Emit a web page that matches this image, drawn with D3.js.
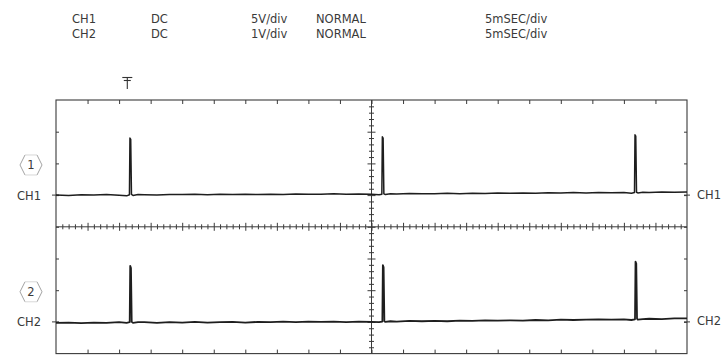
<!DOCTYPE html>
<html>
<head>
<meta charset="utf-8">
<script src="https://cdn.jsdelivr.net/npm/d3@7"></script>
<style>
  html, body { margin: 0; padding: 0; background: #fff; }
  svg { display: block; }
  text { font-family: "DejaVu Sans", sans-serif; fill: #3a3a3a; }
</style>
</head>
<body>
<script>
// Scope settings shown in the header, one entry per channel
const channels    = ["CH1", "CH2"];
const coupling    = ["DC", "DC"];
const voltsPerDiv = [5, 1];
const voltLabels  = ["5V/div", "1V/div"];
const triggerMode = ["NORMAL", "NORMAL"];
const timebase    = ["5mSEC/div", "5mSEC/div"];

// Ground reference of each trace, in screen divisions from centre
const groundDiv = [1, -3];

// Trigger point (ms)
const triggerTime = 5.65;

// CH1 samples: [time ms, volts]
const ch1Trace = [
  [0, 0.00], [1, -0.05], [2, 0.05], [3, 0.00], [4, 0.08], [5, -0.03],
  [5.6, -0.12], [5.82, 0.05], [5.86, 9.0], [5.92, 8.8], [5.98, 0.10], [6.1, -0.05],
  [6.5, 0.08], [7, 0.05], [8, 0.00], [9, 0.10], [10, 0.08], [11, 0.12], [12, 0.05],
  [13, 0.15], [14, 0.10], [15, 0.12], [16, 0.08], [17, 0.15], [18, 0.10], [19, 0.18],
  [20, 0.12], [21, 0.15], [22, 0.20], [23, 0.12], [24, 0.18], [25, 0.15],
  [25.6, 0.05], [25.82, 0.15], [25.86, 9.2], [25.92, 9.0], [25.98, 0.20], [26.1, 0.10],
  [26.5, 0.22], [27, 0.18], [28, 0.25], [29, 0.20], [30, 0.22], [31, 0.28], [32, 0.22],
  [33, 0.30], [34, 0.25], [35, 0.32], [36, 0.28], [37, 0.35], [38, 0.30], [39, 0.38],
  [40, 0.32], [41, 0.40], [42, 0.35], [43, 0.42], [44, 0.38], [45, 0.40],
  [45.6, 0.30], [45.84, 0.42], [45.88, 9.5], [45.94, 9.3], [46.0, 0.45], [46.1, 0.35],
  [46.5, 0.45], [47, 0.42], [48, 0.48], [49, 0.45], [50, 0.50]
];

// CH2 samples: [time ms, volts]
const ch2Trace = [
  [0, -0.03], [1, -0.02], [2, -0.04], [3, -0.02], [4, -0.03], [5, -0.01],
  [5.6, -0.03], [5.84, -0.01], [5.88, 1.77], [5.94, 1.70], [6.0, 0.00], [6.1, -0.03],
  [6.5, -0.01], [7, -0.01], [8, -0.03], [9, -0.01], [10, -0.02], [11, 0.00], [12, -0.02],
  [13, -0.01], [14, 0.00], [15, -0.02], [16, 0.00], [17, -0.01], [18, 0.01], [19, -0.01],
  [20, 0.01], [21, 0.00], [22, 0.01], [23, -0.01], [24, 0.01], [25, 0.00],
  [25.6, -0.01], [25.86, 0.01], [25.9, 1.79], [25.96, 1.72], [26.02, 0.02], [26.1, 0.00],
  [26.5, 0.02], [27, 0.01], [28, 0.03], [29, 0.02], [30, 0.03], [31, 0.02], [32, 0.04],
  [33, 0.03], [34, 0.05], [35, 0.04], [36, 0.05], [37, 0.04], [38, 0.06], [39, 0.05],
  [40, 0.07], [41, 0.06], [42, 0.07], [43, 0.08], [44, 0.07], [45, 0.08],
  [45.6, 0.06], [45.88, 0.08], [45.92, 1.90], [45.98, 1.84], [46.04, 0.10], [46.1, 0.07],
  [46.5, 0.09], [47, 0.10], [48, 0.09], [49, 0.11], [50, 0.11]
];

const W = 726, H = 356;
const svg = d3.select("body").append("svg").attr("width", W).attr("height", H);
svg.append("rect").attr("width", W).attr("height", H).attr("fill", "#fff");

// Screen: 50 ms across, 8 divisions tall
const x = d3.scaleLinear().domain([0, 50]).range([56, 687]);
const y = d3.scaleLinear().domain([-4, 4]).range([353.6, 100]);

// ---- header ----
const colX = [72, 151, 251, 316, 485];
const rowY = [23, 37.5];
const headerRows = channels.map((c, i) => [c, coupling[i], voltLabels[i], triggerMode[i], timebase[i]]);
const header = svg.append("g").attr("font-size", 11.5);
headerRows.forEach((row, r) => {
  header.selectAll(null).data(row).enter().append("text")
    .attr("x", (d, i) => colX[i]).attr("y", rowY[r]).text(d => d);
});

// ---- graticule ----
const grid = svg.append("g").attr("stroke", "#3a3a3a").attr("fill", "none");
const halfDiv = d3.range(2.5, 50, 2.5);
const fineX = d3.range(0.5, 50, 0.5).filter(t => Math.abs(t / 2.5 - Math.round(t / 2.5)) > 1e-6);
const vDiv = d3.range(-3, 4, 1);
const fineY = d3.range(-3.8, 4, 0.2).map(v => +v.toFixed(1)).filter(v => Math.abs(v - Math.round(v)) > 1e-6);

function tickAxis(axis, tx, ty) {
  const g = svg.append("g").attr("transform", `translate(${tx},${ty})`).call(axis);
  g.select(".domain").remove();
  g.selectAll("line").attr("stroke", "#3a3a3a").attr("stroke-width", 1);
  return g;
}

// frame
grid.append("rect")
  .attr("x", x(0)).attr("y", y(4))
  .attr("width", x(50) - x(0)).attr("height", y(-4) - y(4))
  .attr("stroke-width", 1.1);

// edges
tickAxis(d3.axisBottom(x).tickValues(halfDiv).tickSize(4).tickFormat(""), 0, y(4));
tickAxis(d3.axisTop(x).tickValues(halfDiv).tickSize(4).tickFormat(""), 0, y(-4));
tickAxis(d3.axisRight(y).tickValues(vDiv).tickSize(3).tickFormat(""), x(0), 0);
tickAxis(d3.axisLeft(y).tickValues(vDiv).tickSize(3).tickFormat(""), x(50), 0);

// centre cross
grid.append("line").attr("x1", x(0)).attr("x2", x(50)).attr("y1", y(0)).attr("y2", y(0)).attr("stroke-width", 1);
grid.append("line").attr("x1", x(25)).attr("x2", x(25)).attr("y1", y(4)).attr("y2", y(-4)).attr("stroke-width", 1);
[d3.axisTop, d3.axisBottom].forEach(a => {
  tickAxis(a(x).tickValues(halfDiv).tickSize(4).tickFormat(""), 0, y(0));
  tickAxis(a(x).tickValues(fineX).tickSize(2.5).tickFormat(""), 0, y(0));
});
[d3.axisLeft, d3.axisRight].forEach(a => {
  tickAxis(a(y).tickValues(vDiv).tickSize(4).tickFormat(""), x(25), 0);
  tickAxis(a(y).tickValues(fineY).tickSize(2.5).tickFormat(""), x(25), 0);
});

// ground markers on both edges
groundDiv.forEach(g => {
  grid.append("line").attr("x1", x(0) - 4).attr("x2", x(0) + 3).attr("y1", y(g)).attr("y2", y(g));
  grid.append("line").attr("x1", x(50) - 3).attr("x2", x(50) + 3).attr("y1", y(g)).attr("y2", y(g));
});

// trigger marker
const tx = x(triggerTime);
const trig = svg.append("g").attr("stroke", "#333").attr("stroke-width", 1.1);
trig.append("line").attr("x1", tx - 5).attr("x2", tx + 5).attr("y1", 77.5).attr("y2", 77.5);
trig.append("line").attr("x1", tx - 3.5).attr("x2", tx + 3.5).attr("y1", 80.5).attr("y2", 80.5);
trig.append("line").attr("x1", tx).attr("x2", tx).attr("y1", 77.5).attr("y2", 89);

// channel labels and numbered hexagon badges
const labels = svg.append("g").attr("font-size", 11.5);
channels.forEach((c, i) => {
  const gy = y(groundDiv[i]);
  labels.append("text").attr("x", 17).attr("y", gy + 4.5).text(c);
  labels.append("text").attr("x", 697).attr("y", gy + 3.5).text(c);
  const cy = y(groundDiv[i] + 0.95), cx = 31;
  const left  = [[cx - 6, cy - 10], [cx - 11, cy], [cx - 6, cy + 10]];
  const right = [[cx + 6, cy - 10], [cx + 11, cy], [cx + 6, cy + 10]];
  [left, right].forEach(side => {
    labels.append("polyline").attr("points", side.map(p => p.join(",")).join(" "))
      .attr("fill", "none").attr("stroke", "#999").attr("stroke-width", 0.9);
  });
  [cy - 10, cy + 10].forEach(ey => {
    labels.append("line").attr("x1", cx - 6).attr("x2", cx + 6).attr("y1", ey).attr("y2", ey)
      .attr("stroke", "#d4d4d4").attr("stroke-width", 0.9);
  });
  labels.append("text").attr("x", cx).attr("y", cy + 4).attr("text-anchor", "middle")
    .attr("fill", "#555").text(String(i + 1));
});

// ---- traces ----
const traces = [ch1Trace, ch2Trace];
traces.forEach((trace, i) => {
  const line = d3.line()
    .x(d => x(d[0]))
    .y(d => y(groundDiv[i] + d[1] / voltsPerDiv[i]));
  svg.append("path").datum(trace)
    .attr("d", line)
    .attr("fill", "none")
    .attr("stroke", "#1e1e1e")
    .attr("stroke-width", i === 0 ? 1.5 : 1.8)
    .attr("stroke-linejoin", "round");
});
</script>
</body>
</html>
